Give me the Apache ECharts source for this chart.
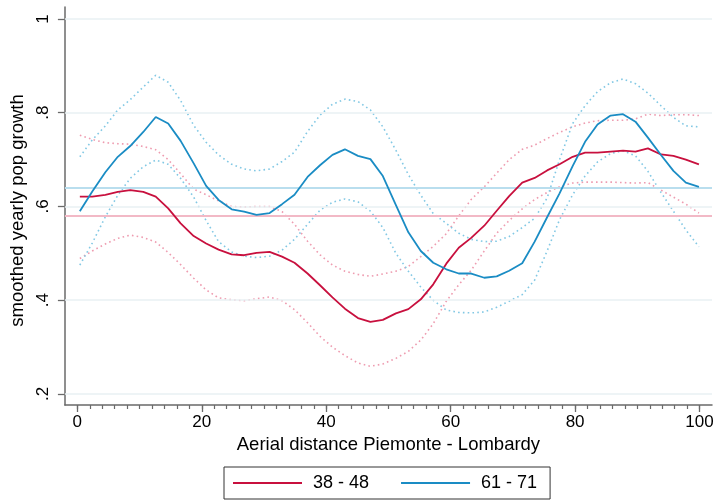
<!DOCTYPE html>
<html>
<head>
<meta charset="utf-8">
<script src="https://cdn.jsdelivr.net/npm/echarts@6/dist/echarts.min.js"></script>
<style>
  html, body { margin: 0; padding: 0; background: #fff; }
  #chart { width: 719px; height: 501px; }
</style>
</head>
<body>
<div id="chart"></div>
<script>
// Distance grid (km-scale index along the Piemonte - Lombardy border)
const distance = [0.4, 2.4, 4.5, 6.5, 8.5, 10.6, 12.6, 14.6, 16.6, 18.7,
  20.7, 22.7, 24.8, 26.8, 28.8, 30.9, 32.9, 34.9, 37.0, 39.0,
  41.0, 43.0, 45.1, 47.1, 49.1, 51.2, 53.2, 55.2, 57.2, 59.3,
  61.3, 63.3, 65.4, 67.4, 69.4, 71.5, 73.5, 75.5, 77.5, 79.6,
  81.6, 83.6, 85.7, 87.7, 89.7, 91.7, 93.8, 95.8, 97.8, 99.9];

// Cohort 38 - 48: smoothed growth and its confidence band
const growth3848 = [0.621, 0.621, 0.625, 0.631, 0.635, 0.631, 0.621, 0.596, 0.564, 0.537,
  0.521, 0.508, 0.498, 0.496, 0.501, 0.503, 0.493, 0.480, 0.457, 0.432,
  0.406, 0.382, 0.362, 0.354, 0.358, 0.372, 0.381, 0.402, 0.434, 0.478,
  0.512, 0.533, 0.559, 0.591, 0.622, 0.651, 0.661, 0.677, 0.690, 0.706,
  0.715, 0.715, 0.717, 0.719, 0.717, 0.724, 0.711, 0.708, 0.700, 0.690];
const upper3848 = [0.752, 0.743, 0.736, 0.734, 0.733, 0.728, 0.721, 0.700, 0.670, 0.637,
  0.625, 0.612, 0.600, 0.599, 0.600, 0.600, 0.589, 0.562, 0.526, 0.497,
  0.475, 0.462, 0.455, 0.451, 0.456, 0.462, 0.472, 0.493, 0.515, 0.542,
  0.580, 0.615, 0.642, 0.671, 0.700, 0.722, 0.731, 0.745, 0.758, 0.770,
  0.778, 0.783, 0.784, 0.784, 0.787, 0.797, 0.794, 0.796, 0.796, 0.794];
const lower3848 = [0.489, 0.505, 0.520, 0.532, 0.539, 0.534, 0.524, 0.502, 0.476, 0.447,
  0.422, 0.405, 0.401, 0.399, 0.403, 0.407, 0.399, 0.380, 0.352, 0.323,
  0.300, 0.282, 0.266, 0.259, 0.264, 0.276, 0.291, 0.315, 0.350, 0.398,
  0.433, 0.464, 0.505, 0.543, 0.570, 0.595, 0.615, 0.630, 0.642, 0.650,
  0.652, 0.652, 0.652, 0.651, 0.650, 0.651, 0.635, 0.620, 0.605, 0.586];

// Cohort 61 - 71: smoothed growth and its confidence band
const growth6171 = [0.590, 0.632, 0.673, 0.706, 0.729, 0.759, 0.791, 0.777, 0.740, 0.692,
  0.644, 0.614, 0.594, 0.589, 0.582, 0.586, 0.605, 0.625, 0.663, 0.688,
  0.710, 0.722, 0.708, 0.701, 0.665, 0.603, 0.545, 0.505, 0.480, 0.466,
  0.457, 0.457, 0.448, 0.451, 0.463, 0.479, 0.525, 0.577, 0.628, 0.686,
  0.738, 0.775, 0.794, 0.797, 0.781, 0.747, 0.710, 0.676, 0.651, 0.642];
const upper6171 = [0.706, 0.742, 0.772, 0.806, 0.828, 0.855, 0.880, 0.865, 0.826, 0.773,
  0.737, 0.710, 0.690, 0.680, 0.676, 0.680, 0.696, 0.716, 0.760, 0.795,
  0.818, 0.829, 0.824, 0.806, 0.770, 0.720, 0.668, 0.624, 0.585, 0.564,
  0.543, 0.530, 0.525, 0.526, 0.536, 0.555, 0.575, 0.618, 0.700, 0.777,
  0.815, 0.845, 0.864, 0.872, 0.862, 0.842, 0.815, 0.790, 0.772, 0.770];
const lower6171 = [0.475, 0.522, 0.578, 0.624, 0.660, 0.685, 0.699, 0.690, 0.660, 0.620,
  0.570, 0.525, 0.503, 0.494, 0.491, 0.494, 0.507, 0.530, 0.562, 0.592,
  0.609, 0.616, 0.610, 0.590, 0.555, 0.500, 0.462, 0.428, 0.400, 0.379,
  0.374, 0.373, 0.375, 0.385, 0.398, 0.412, 0.443, 0.505, 0.572, 0.625,
  0.665, 0.695, 0.713, 0.719, 0.708, 0.675, 0.630, 0.590, 0.550, 0.514];

// Overall means drawn as horizontal reference lines
const mean3848 = 0.581;
const mean6171 = 0.640;

// Axis ticks
const xMajorTicks = [0, 20, 40, 60, 80, 100];
const yTicks = [0.2, 0.4, 0.6, 0.8, 1];
const yTickLabels = ['.2', '.4', '.6', '.8', '1'];
const xMinorTicks = [];
for (let t = 0; t <= 100; t += 2) xMinorTicks.push(t);

const RED = '#c8103e';
const BLUE = '#1a8cc4';
const RED_CI = '#ee9cb0';
const BLUE_CI = '#82c8e4';
const FONT = 'Liberation Sans, Arial, sans-serif';

const pairs = ys => distance.map((x, i) => [x, ys[i]]);

const dotted = (name, ys, color) => ({
  name, type: 'line', data: pairs(ys), symbol: 'none', silent: true, z: 3,
  lineStyle: { color, width: 1.6, type: [1.6, 3.2] }
});

const chart = echarts.init(document.getElementById('chart'), null, { renderer: 'canvas' });

chart.setOption({
  animation: false,
  backgroundColor: '#ffffff',
  textStyle: { fontFamily: FONT },
  grid: { left: 64, right: 7, top: 7, bottom: 96 },
  xAxis: [{
    type: 'value', min: -2, max: 102,
    name: 'Aerial distance Piemonte - Lombardy',
    nameLocation: 'middle', nameGap: 27,
    nameTextStyle: { fontSize: 18.5, color: '#000', fontFamily: FONT },
    axisLine: { show: true, onZero: false, lineStyle: { color: '#6a6a6a', width: 1.5 } },
    axisTick: { show: true, length: 7, customValues: xMajorTicks, lineStyle: { color: '#6a6a6a', width: 1.3 } },
    axisLabel: { customValues: xMajorTicks, margin: 9, fontSize: 17, color: '#000', fontFamily: FONT },
    splitLine: { show: false }
  }, {
    type: 'value', min: -2, max: 102, position: 'bottom',
    axisLine: { show: false, onZero: false },
    axisTick: { show: true, length: 4, customValues: xMinorTicks, lineStyle: { color: '#6a6a6a', width: 1.2 } },
    axisLabel: { show: false },
    splitLine: { show: false }
  }],
  yAxis: {
    type: 'value', min: 0.1765, max: 1.0256,
    name: 'smoothed yearly pop growth',
    nameLocation: 'middle', nameGap: 25, nameRotate: 90,
    nameTextStyle: { fontSize: 18.5, color: '#000', fontFamily: FONT, padding: [0, 9, 0, 0] },
    axisLine: { show: true, onZero: false, lineStyle: { color: '#6a6a6a', width: 1.5 } },
    axisTick: { show: true, length: 7, customValues: yTicks, lineStyle: { color: '#6a6a6a', width: 1.3 } },
    axisLabel: {
      customValues: yTicks, rotate: 90, margin: 13, fontSize: 17, color: '#000', fontFamily: FONT,
      formatter: v => yTickLabels[yTicks.findIndex(t => Math.abs(t - v) < 1e-9)]
    },
    splitLine: { show: false }
  },
  legend: {
    data: ['38 - 48', '61 - 71'],
    left: 224, top: 467,
    padding: [7, 13, 7, 9],
    itemWidth: 69, itemHeight: 2.2, itemGap: 32,
    icon: 'rect',
    borderColor: '#333', borderWidth: 1,
    textStyle: { fontSize: 18, color: '#000', fontFamily: FONT, padding: [0, 0, 0, 6] }
  },
  series: [
    {
      name: 'gridlines', type: 'line', data: [], silent: true, z: 1,
      markLine: {
        silent: true, symbol: 'none', label: { show: false },
        lineStyle: { color: '#e8f1f3', width: 1.6, type: 'solid' },
        data: yTicks.map(v => ({ yAxis: v }))
      }
    },
    {
      name: 'means', type: 'line', data: [], silent: true, z: 2,
      markLine: {
        silent: true, symbol: 'none', label: { show: false },
        data: [
          { yAxis: mean6171, lineStyle: { color: '#b9deee', width: 2, type: 'solid' } },
          { yAxis: mean3848, lineStyle: { color: '#f2b9c6', width: 2, type: 'solid' } }
        ]
      }
    },
    dotted('38 - 48 upper', upper3848, RED_CI),
    dotted('38 - 48 lower', lower3848, RED_CI),
    dotted('61 - 71 upper', upper6171, BLUE_CI),
    dotted('61 - 71 lower', lower6171, BLUE_CI),
    {
      name: '38 - 48', type: 'line', data: pairs(growth3848), symbol: 'none', z: 5,
      color: RED, lineStyle: { color: RED, width: 1.8 }
    },
    {
      name: '61 - 71', type: 'line', data: pairs(growth6171), symbol: 'none', z: 5,
      color: BLUE, lineStyle: { color: BLUE, width: 1.8 }
    }
  ]
});
</script>
</body>
</html>
